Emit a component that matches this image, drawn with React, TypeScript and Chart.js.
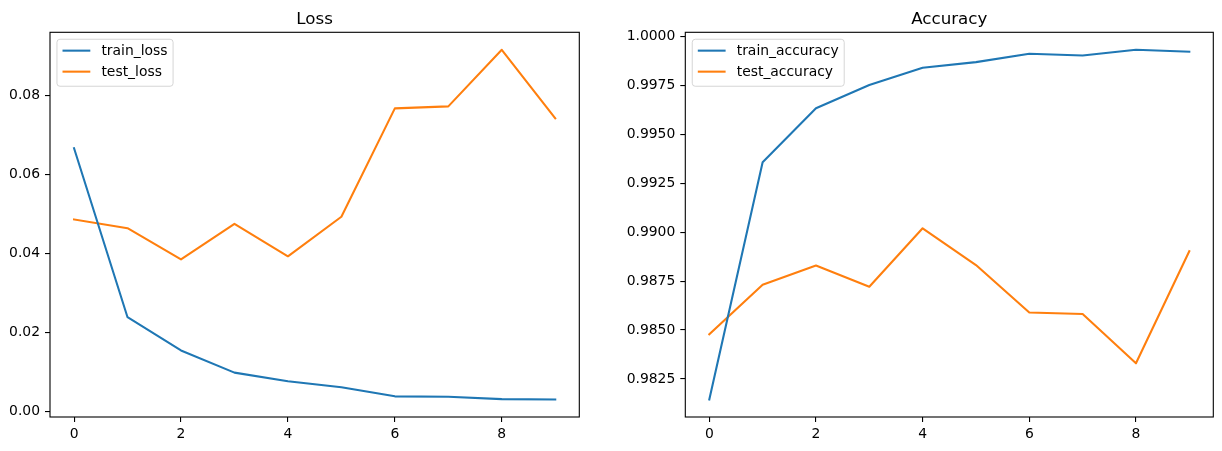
import React, { useEffect, useRef } from 'react';
import { Chart, registerables } from 'chart.js';
Chart.register(...registerables);

// ---- data ----
const epochs = [0, 1, 2, 3, 4, 5, 6, 7, 8, 9];
const trainLoss = [0.0666, 0.0239, 0.0155, 0.0099, 0.0077, 0.0062, 0.0039, 0.0038, 0.0032, 0.0031];
const testLoss = [0.0486, 0.0464, 0.0385, 0.0475, 0.0393, 0.0493, 0.0767, 0.0772, 0.0915, 0.0742];
const trainAcc = [0.98145, 0.99357, 0.99633, 0.99752, 0.9984, 0.99869, 0.99912, 0.99903, 0.99932, 0.99922];
const testAcc = [0.98478, 0.98731, 0.9883, 0.98721, 0.9902, 0.98832, 0.9859, 0.98582, 0.9833, 0.98903];
const xTicks = [0, 2, 4, 6, 8];
const lossTicks = [0, 0.02, 0.04, 0.06, 0.08];
const accTicks = [0.9825, 0.985, 0.9875, 0.99, 0.9925, 0.995, 0.9975, 1.0];
const lossLabels = ['train_loss', 'test_loss'];
const accLabels = ['train_accuracy', 'test_accuracy'];
const titles = ['Loss', 'Accuracy'];

const BLUE = '#1f77b4';
const ORANGE = '#ff7f0e';
const FONT = '"DejaVu Sans", sans-serif';
const TICK_FS = 13.9;

function margins(vals: number[], frac = 0.05) {
  const mn = Math.min(...vals), mx = Math.max(...vals);
  const d = (mx - mn) * frac;
  return [mn - d, mx + d];
}

const framePlugin = {
  id: 'mplFrame',
  afterDatasetsDraw(chart: any) {
    const { ctx, chartArea: a } = chart;
    ctx.save();
    ctx.strokeStyle = '#000';
    ctx.lineWidth = 1.1;
    ctx.strokeRect(a.left, a.top, a.right - a.left, a.bottom - a.top);
    ctx.restore();
  },
  afterDraw(chart: any) {
    const { ctx, chartArea: a } = chart;
    const opts = chart.options.plugins.mplFrame || {};
    ctx.save();
    // title
    ctx.fillStyle = '#000';
    ctx.font = `16.7px ${FONT}`;
    ctx.textAlign = 'center';
    ctx.textBaseline = 'alphabetic';
    ctx.fillText(opts.title || '', (a.left + a.right) / 2, a.top - 8.3);
    // legend
    const fs = TICK_FS;
    ctx.font = `${fs}px ${FONT}`;
    const ds = chart.data.datasets;
    const widths = ds.map((d: any) => ctx.measureText(d.label).width);
    const maxW = Math.max(...widths);
    const bx = a.left + 6.95, by = a.top + 6.95;
    const bw = 5.56 + 27.8 + 11.1 + maxW + 5.56;
    const bh = 47;
    const r = 3;
    ctx.beginPath();
    ctx.moveTo(bx + r, by);
    ctx.lineTo(bx + bw - r, by);
    ctx.arcTo(bx + bw, by, bx + bw, by + r, r);
    ctx.lineTo(bx + bw, by + bh - r);
    ctx.arcTo(bx + bw, by + bh, bx + bw - r, by + bh, r);
    ctx.lineTo(bx + r, by + bh);
    ctx.arcTo(bx, by + bh, bx, by + bh - r, r);
    ctx.lineTo(bx, by + r);
    ctx.arcTo(bx, by, bx + r, by, r);
    ctx.closePath();
    ctx.fillStyle = 'rgba(255,255,255,0.8)';
    ctx.fill();
    ctx.strokeStyle = 'rgba(204,204,204,0.8)';
    ctx.lineWidth = 1;
    ctx.stroke();
    ds.forEach((d: any, i: number) => {
      const cy = by + 11.4 + i * 21;
      ctx.beginPath();
      ctx.strokeStyle = d.borderColor;
      ctx.lineWidth = 2.08;
      ctx.lineCap = 'butt';
      ctx.moveTo(bx + 5.56, cy);
      ctx.lineTo(bx + 5.56 + 27.8, cy);
      ctx.stroke();
      ctx.fillStyle = '#000';
      ctx.textAlign = 'left';
      ctx.textBaseline = 'middle';
      ctx.fillText(d.label, bx + 5.56 + 27.8 + 11.1, cy + 0.5);
    });
    ctx.restore();
  },
};

function makeConfig(
  title: string,
  labels: string[],
  a: number[],
  b: number[],
  yTicks: number[],
  decimals: number,
  yAxisWidth: number,
  padRight: number
): any {
  const [ymin, ymax] = margins([...a, ...b]);
  const [xmin, xmax] = margins(epochs);
  const mk = (label: string, vals: number[], color: string) => ({
    label,
    data: epochs.map((e, i) => ({ x: e, y: vals[i] })),
    borderColor: color,
    backgroundColor: color,
    borderWidth: 2.08,
    pointRadius: 0,
    tension: 0,
    fill: false,
    borderJoinStyle: 'round',
    borderCapStyle: 'square',
  });
  return {
    type: 'line',
    data: { datasets: [mk(labels[0], a, BLUE), mk(labels[1], b, ORANGE)] },
    options: {
      animation: false,
      responsive: false,
      devicePixelRatio: 1,
      layout: { padding: { left: 0, top: 32.3, right: padRight, bottom: 0 } },
      plugins: {
        legend: { display: false },
        tooltip: { enabled: false },
        mplFrame: { title },
      },
      scales: {
        x: {
          type: 'linear',
          min: xmin,
          max: xmax,
          afterBuildTicks: (s: any) => {
            s.ticks = xTicks.map((v) => ({ value: v }));
          },
          afterFit: (s: any) => {
            s.height = 34;
          },
          ticks: {
            color: '#000',
            font: { family: FONT, size: TICK_FS },
            padding: 4,
            maxRotation: 0,
            autoSkip: false,
            callback: (v: any) => String(v),
          },
          grid: {
            display: true,
            drawOnChartArea: false,
            drawTicks: true,
            tickLength: 5,
            color: '#000',
            lineWidth: 1.1,
          },
          border: { display: false },
        },
        y: {
          type: 'linear',
          min: ymin,
          max: ymax,
          afterBuildTicks: (s: any) => {
            s.ticks = yTicks.map((v) => ({ value: v }));
          },
          afterFit: (s: any) => {
            s.width = yAxisWidth;
          },
          ticks: {
            color: '#000',
            font: { family: FONT, size: TICK_FS },
            padding: 5,
            autoSkip: false,
            callback: (v: any) => Number(v).toFixed(decimals),
          },
          grid: {
            display: true,
            drawOnChartArea: false,
            drawTicks: true,
            tickLength: 5,
            color: '#000',
            lineWidth: 1.1,
          },
          border: { display: false },
        },
      },
    },
    plugins: [framePlugin],
  };
}

function Panel(props: { left: number; width: number; config: () => any }) {
  const ref = useRef<HTMLCanvasElement | null>(null);
  useEffect(() => {
    if (!ref.current) return;
    const chart = new Chart(ref.current, props.config());
    return () => chart.destroy();
  }, []);
  return (
    <div style={{ position: 'absolute', left: props.left, top: 0, width: props.width, height: 451 }}>
      <canvas ref={ref} width={props.width} height={451} style={{ width: props.width, height: 451, display: 'block' }} />
    </div>
  );
}

export default function App() {
  return (
    <div style={{ position: 'fixed', left: 0, top: 0, width: 1222, height: 451, background: '#fff' }}>
      <Panel
        left={0}
        width={600}
        config={() => makeConfig(titles[0], lossLabels, trainLoss, testLoss, lossTicks, 2, 50, 20.7)}
      />
      <Panel
        left={600}
        width={622}
        config={() => makeConfig(titles[1], accLabels, trainAcc, testAcc, accTicks, 4, 85.3, 8.7)}
      />
    </div>
  );
}
